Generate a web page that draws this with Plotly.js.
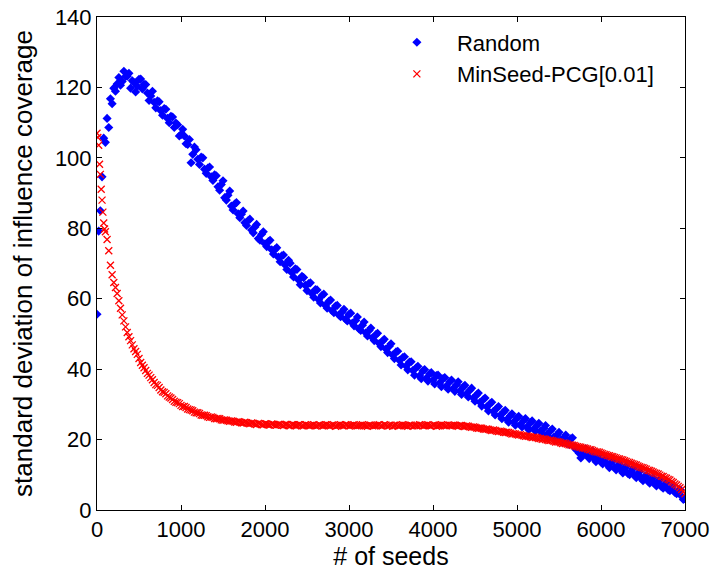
<!DOCTYPE html>
<html>
<head>
<meta charset="utf-8">
<script src="https://cdn.plot.ly/plotly-3.0.1.min.js"></script>
<style>html,body{margin:0;padding:0;background:#fff;}#chart{width:715px;height:571px;}</style>
</head>
<body>
<div id="chart"></div>
<script>
// Random (blue diamonds) - first batch
const randomX = [0,20,40,60,80,100,120,140,160,180,
  200,240,280,320,360,400,440,480,520,560,
  600,640,680,720,760,800,840,880,920,960,
  1000,1040,1080,1120,1160,1200,1240,1280,1320,1360,
  1400,1440,1480,1520,1560,1600,1640,1680,1720,1760,
  1800,1840,1880,1920,1960,2000,2040,2080,2120,2160,
  2200,2240,2280,2320,2360,2400,2440,2480,2520,2560,
  2600,2640,2680,2720,2760,2800,2840,2880,2920,2960,
  3000,3040,3080,3120,3160,3200,3240,3280,3320,3360,
  3400,3440,3480,3520,3560,3600,3640,3680,3720,3760,
  3800,3840,3880,3920,3960,4000,4040,4080,4120,4160,
  4200,4240,4280,4320,4360,4400,4440,4480,4520,4560,
  4600,4640,4680,4720,4760,4800,4840,4880,4920,4960,
  5000,5040,5080,5120,5160,5200,5240,5280,5320,5360,
  5400,5440,5480,5520,5560,5600,5640,5680,5720,5760,
  5800,5840,5880,5920,5960,6000,6040,6080,6120,6160,
  6200,6240,6280,6320,6360,6400,6440,6480,6520,6560,
  6600,6640,6680,6720,6760,6800,6840,6880,6920,6960,
  7000];
const randomY = [55.6,79.2,85.0,94.6,105.6,104.4,111.2,108.6,116.8,115.4,
  119.8,121.0,120.6,124.6,123.2,119.8,121.4,120.3,122.4,120.9,
  118.4,117.6,115.8,116.2,113.4,114.0,111.2,111.8,108.6,109.4,
  106.6,106.2,103.8,98.6,103.1,99.6,100.2,96.8,97.1,94.6,
  95.2,91.8,92.4,88.7,89.4,86.3,86.9,84.1,84.0,81.6,
  82.2,79.5,80.4,77.1,78.3,75.6,76.2,73.9,74.0,71.8,
  72.2,69.6,70.9,67.4,68.5,65.3,66.4,63.8,64.3,61.4,
  62.6,59.7,61.0,58.1,59.3,56.6,57.9,55.4,56.3,54.2,
  55.6,53.1,53.8,51.4,52.5,50.3,51.0,48.9,49.8,47.3,
  48.0,45.7,46.5,44.0,44.9,42.5,43.3,40.9,42.0,39.6,
  40.4,38.1,39.5,37.4,38.7,36.9,38.2,36.1,37.3,35.2,
  36.4,34.5,35.6,33.8,34.9,33.0,34.0,31.8,32.7,30.6,
  31.4,29.3,30.2,28.0,28.9,26.9,27.8,25.7,26.8,25.0,
  26.1,24.3,25.4,23.6,24.8,23.0,24.1,22.4,23.2,21.6,
  22.5,20.7,21.4,19.8,20.6,19.0,20.2,18.0,17.4,14.8,
  16.2,15.4,15.9,14.6,14.9,13.6,14.2,12.8,13.4,12.0,
  12.6,11.2,11.8,10.4,11.0,9.7,10.2,8.9,9.5,8.2,
  8.8,7.4,8.0,6.6,7.2,5.8,6.3,5.0,5.4,3.9,
  3.4];
// Random - second batch (in-between seeds)
const randomX2 = [220,260,300,340,380,420,460,500,540,580,
  620,660,700,740,780,820,860,900,940,980,
  1020,1060,1100,1140,1180,1220,1260,1300,1340,1380,
  1420,1460,1500,1540,1580,1620,1660,1700,1740,1780,
  1820,1860,1900,1940,1980,2020,2060,2100,2140,2180,
  2220,2260,2300,2340,2380,2420,2460,2500,2540,2580,
  2620,2660,2700,2740,2780,2820,2860,2900,2940,2980,
  3020,3060,3100,3140,3180,3220,3260,3300,3340,3380,
  3420,3460,3500,3540,3580,3620,3660,3700,3740,3780,
  3820,3860,3900,3940,3980,4020,4060,4100,4140,4180,
  4220,4260,4300,4340,4380,4420,4460,4500,4540,4580,
  4620,4660,4700,4740,4780,4820,4860,4900,4940,4980,
  5020,5060,5100,5140,5180,5220,5260,5300,5340,5380,
  5420,5460,5500,5540,5580,5620,5660,5700,5740,5780,
  5820,5860,5900,5940,5980,6020,6060,6100,6140,6180,
  6220,6260,6300,6340,6380,6420,6460,6500,6540,6580,
  6620,6660,6700,6740,6780,6820,6860,6900,6940,6980];
const randomY2 = [118.9,122.8,121.7,123.1,124.0,121.9,118.7,122.3,119.6,120.8,
  116.3,118.9,114.2,115.9,112.1,113.8,110.0,111.6,109.9,106.2,
  108.1,104.0,105.2,101.0,102.3,98.1,100.0,95.6,97.4,93.6,
  94.9,90.8,93.5,88.0,90.6,85.2,87.3,83.0,84.9,80.8,
  82.6,78.7,81.1,76.6,79.0,74.8,76.6,72.7,74.5,70.5,
  72.4,68.3,70.1,66.2,68.3,64.0,66.0,62.3,64.5,60.4,
  62.5,58.8,61.3,57.3,59.6,56.0,58.1,54.9,57.0,53.7,
  55.9,52.3,54.8,51.0,53.4,49.4,51.7,48.1,50.2,46.4,
  48.5,44.7,47.2,43.0,45.1,41.2,43.5,39.8,42.1,38.3,
  40.8,37.3,39.9,36.6,39.0,35.8,38.3,35.0,37.6,34.3,
  36.9,33.7,36.4,32.8,35.4,32.1,34.6,30.9,33.2,29.5,
  31.8,28.1,30.6,27.0,29.4,25.9,28.3,24.9,27.3,24.1,
  26.6,23.6,26.0,22.8,25.3,22.4,24.6,21.5,24.0,20.6,
  23.0,19.8,22.1,19.2,21.3,18.6,20.5,17.2,16.1,15.5,
  17.4,14.6,16.6,13.7,15.8,13.1,14.7,12.0,13.9,11.4,
  13.0,10.5,12.4,10.0,11.7,9.2,10.9,8.3,9.9,7.6,
  9.2,6.8,8.6,6.2,7.9,5.5,7.1,4.6,5.8,3.0];

// MinSeed-PCG[0.01] (red crosses) - first batch
const pcgX = [0,10,20,30,40,50,60,70,80,90,100,120,140,160,180,200,
  240,280,320,360,400,440,480,520,560,600,
  640,680,720,760,800,840,880,920,960,1000,
  1040,1080,1120,1160,1200,1240,1280,1320,1360,1400,
  1440,1480,1520,1560,1600,1640,1680,1720,1760,1800,
  1840,1880,1920,1960,2000,2040,2080,2120,2160,2200,
  2240,2280,2320,2360,2400,2440,2480,2520,2560,2600,
  2640,2680,2720,2760,2800,2840,2880,2920,2960,3000,
  3040,3080,3120,3160,3200,3240,3280,3320,3360,3400,
  3440,3480,3520,3560,3600,3640,3680,3720,3760,3800,
  3840,3880,3920,3960,4000,4040,4080,4120,4160,4200,
  4240,4280,4320,4360,4400,4440,4480,4520,4560,4600,
  4640,4680,4720,4760,4800,4840,4880,4920,4960,5000,
  5040,5080,5120,5160,5200,5240,5280,5320,5360,5400,
  5440,5480,5520,5560,5600,5640,5680,5720,5760,5800,
  5840,5880,5920,5960,6000,6040,6080,6120,6160,6200,
  6240,6280,6320,6360,6400,6440,6480,6520,6560,6600,
  6640,6680,6720,6760,6800,6840,6880,6920,6960,7000];
const pcgY = [107.0,105.8,103.6,98.2,95.3,91.1,88.0,84.6,81.5,79.8,79.0,76.8,73.6,69.5,66.8,64.6,
  61.5,57.3,53.7,50.4,48.1,45.8,44.2,41.9,40.4,38.8,
  37.6,36.2,35.4,34.1,33.4,32.4,31.8,30.9,30.5,29.7,
  29.4,28.7,28.4,27.8,27.6,27.0,26.9,26.5,26.4,26.0,
  26.0,25.6,25.6,25.3,25.3,25.0,25.1,24.8,24.9,24.6,
  24.7,24.4,24.6,24.3,24.5,24.2,24.4,24.1,24.3,24.1,
  24.3,24.0,24.2,24.0,24.2,23.9,24.2,24.0,24.1,23.9,
  24.1,23.9,24.2,24.0,24.1,23.8,24.1,24.0,24.2,23.9,
  24.1,23.9,24.0,24.2,23.9,24.1,23.9,24.0,24.2,23.9,
  24.1,24.0,23.8,24.1,24.0,24.2,23.9,24.1,23.9,24.0,
  24.2,23.9,24.1,24.0,24.1,23.8,24.0,24.1,23.9,24.0,
  24.1,23.9,24.0,23.8,23.9,23.6,23.6,23.3,23.3,23.0,
  23.0,22.7,22.7,22.4,22.4,22.1,22.1,21.8,21.7,21.4,
  21.4,21.1,21.0,20.8,20.7,20.5,20.3,20.2,19.9,19.8,
  19.5,19.4,19.1,19.0,18.7,18.5,18.3,18.0,17.8,17.6,
  17.3,17.1,16.7,16.5,16.2,15.8,15.5,15.2,14.9,14.6,
  14.3,14.0,13.6,13.3,12.9,12.5,12.1,11.8,11.3,11.0,
  10.5,10.2,9.6,9.2,8.7,8.1,7.4,6.7,5.8,4.6];
// MinSeed-PCG[0.01] - second batch (in-between seeds)
const pcgX2 = [220,260,300,340,380,420,460,500,540,580,
  620,660,700,740,780,820,860,900,940,980,
  1020,1060,1100,1140,1180,1220,1260,1300,1340,1380,
  1420,1460,1500,1540,1580,1620,1660,1700,1740,1780,
  1820,1860,1900,1940,1980,2020,2060,2100,2140,2180,
  2220,2260,2300,2340,2380,2420,2460,2500,2540,2580,
  2620,2660,2700,2740,2780,2820,2860,2900,2940,2980,
  3020,3060,3100,3140,3180,3220,3260,3300,3340,3380,
  3420,3460,3500,3540,3580,3620,3660,3700,3740,3780,
  3820,3860,3900,3940,3980,4020,4060,4100,4140,4180,
  4220,4260,4300,4340,4380,4420,4460,4500,4540,4580,
  4620,4660,4700,4740,4780,4820,4860,4900,4940,4980,
  5020,5060,5100,5140,5180,5220,5260,5300,5340,5380,
  5420,5460,5500,5540,5580,5620,5660,5700,5740,5780,
  5820,5860,5900,5940,5980,6020,6060,6100,6140,6180,
  6220,6260,6300,6340,6380,6420,6460,6500,6540,6580,
  6620,6660,6700,6740,6780,6820,6860,6900,6940,6980];
const pcgY2 = [63.2,59.4,55.4,52.0,49.2,46.9,45.0,43.0,41.1,39.6,
  38.3,37.0,35.6,34.8,33.6,33.0,32.1,31.4,30.6,30.2,
  29.4,29.1,28.5,28.2,27.6,27.4,26.9,26.8,26.3,26.3,
  25.9,25.9,25.5,25.5,25.2,25.2,24.9,25.0,24.7,24.8,
  24.5,24.6,24.3,24.5,24.2,24.4,24.1,24.3,24.1,24.3,
  24.0,24.3,23.9,24.2,24.0,24.2,23.9,24.1,24.0,24.2,
  23.9,24.1,24.0,24.2,23.9,24.1,24.0,24.2,23.9,24.1,
  24.0,24.2,23.9,24.1,24.0,23.8,24.1,24.0,24.1,23.9,
  24.2,23.9,24.1,24.0,23.9,24.1,24.0,23.8,24.1,24.0,
  23.9,24.1,24.0,24.2,23.9,24.1,23.9,24.2,24.0,24.1,
  24.0,24.1,23.8,24.0,23.7,23.8,23.5,23.5,23.2,23.2,
  22.9,22.9,22.6,22.6,22.3,22.3,22.0,22.0,21.6,21.6,
  21.3,21.2,20.9,20.9,20.6,20.6,20.3,20.1,20.0,19.7,
  19.7,19.3,19.3,18.9,18.9,18.5,18.4,18.1,17.9,17.6,
  17.5,17.1,16.9,16.5,16.4,16.0,15.7,15.4,15.1,14.8,
  14.5,14.2,13.8,13.5,13.1,12.8,12.3,12.0,11.6,11.2,
  10.8,10.4,9.9,9.5,9.0,8.5,7.8,7.1,6.3,5.3];

const xTicks = [0,1000,2000,3000,4000,5000,6000,7000];
const yTicks = [0,20,40,60,80,100,120,140];

const FONT = 'Liberation Sans, Arial, sans-serif';

const traces = [
  {x: randomX.concat(randomX2), y: randomY.concat(randomY2), type: 'scatter', mode: 'markers', name: 'Random',
   marker: {symbol: 'diamond', size: 7, color: '#0000ff', line: {width: 0}}},
  {x: pcgX.concat(pcgX2), y: pcgY.concat(pcgY2), type: 'scatter', mode: 'markers', name: 'MinSeed-PCG[0.01]',
   marker: {symbol: 'x-thin-open', size: 7, color: '#ff0000', line: {width: 1.3, color: '#ff0000'}}}
];

const axisCommon = {
  showgrid: false, zeroline: false, showline: true, linecolor: '#000', linewidth: 1,
  mirror: 'ticks', ticks: 'inside', ticklen: 5, tickcolor: '#000', tickwidth: 1,
  tickfont: {family: FONT, size: 22, color: '#000'}
};

const layout = {
  width: 715, height: 571,
  margin: {l: 97, r: 30, t: 17, b: 61},
  paper_bgcolor: '#fff', plot_bgcolor: '#fff',
  showlegend: true,
  legend: {x: 0.476, y: 0.991, xanchor: 'left', yanchor: 'top', bgcolor: 'rgba(0,0,0,0)',
           itemwidth: 70, borderwidth: 0, font: {family: FONT, size: 22, color: '#000'}},
  xaxis: Object.assign({}, axisCommon, {range: [0, 7000], tickvals: xTicks, ticktext: xTicks.map(String),
    title: {text: '# of seeds', font: {family: FONT, size: 25, color: '#000'}, standoff: 6}}),
  yaxis: Object.assign({}, axisCommon, {range: [0, 140], tickvals: yTicks, ticktext: yTicks.map(String),
    title: {text: 'standard deviation of influence coverage', font: {family: FONT, size: 26, color: '#000'}, standoff: 14}})
};

Plotly.newPlot('chart', traces, layout, {displayModeBar: false, staticPlot: true});
</script>
</body>
</html>
